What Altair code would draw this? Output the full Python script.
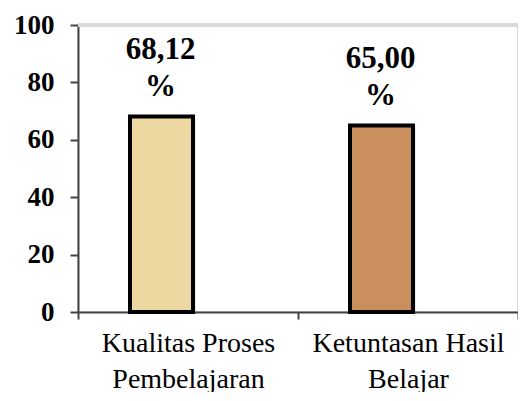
import altair as alt
import pandas as pd

categories = ["Kualitas Proses Pembelajaran", "Ketuntasan Hasil Belajar"]
values = [68.12, 65.00]
value_labels = ["68,12\n%", "65,00\n%"]
colors = ["#EED8A2", "#C98F5C"]

df = pd.DataFrame({"cat": categories, "val": values, "lab": value_labels, "col": colors})

label_expr = ("datum.value == 'Kualitas Proses Pembelajaran' ? ['Kualitas Proses', 'Pembelajaran'] : "
              "datum.value == 'Ketuntasan Hasil Belajar' ? ['Ketuntasan Hasil', 'Belajar'] : ''")

x = alt.X("cat:N", sort=categories, title=None,
          scale=alt.Scale(paddingInner=0, paddingOuter=0),
          axis=alt.Axis(labelAngle=0, labelFont="Liberation Serif", labelFontSize=28,
                        labelColor="black", labelExpr=label_expr, labelPadding=10,
                        labelLineHeight=36, labelBaseline="top", labelLimit=0,
                        tickBand="extent", tickSize=7, tickColor="#444444", tickWidth=2,
                        domainColor="#444444", domainWidth=2, grid=False))
y = alt.Y("val:Q", title=None,
          scale=alt.Scale(domain=[0, 100], nice=False),
          axis=alt.Axis(values=[0, 20, 40, 60, 80, 100], labelFont="Liberation Serif",
                        labelFontSize=27, labelFontWeight="bold", labelColor="black",
                        labelPadding=16, tickSize=8, tickColor="#444444", tickWidth=2,
                        domainColor="#444444", domainWidth=2, gridColor="#d9d9d9",
                        gridWidth=1.5))

base = alt.Chart(df)

top_rule = base.mark_rule(color="#d9d9d9", strokeWidth=4).encode(y=alt.datum(100))

shadow = base.mark_bar(width=63, xOffset=-24, yOffset=2, fill="#000000", opacity=0.15).encode(
    x=x, y=y)

bars = base.mark_bar(width=63, xOffset=-26.5, stroke="black", strokeWidth=4).encode(
    x=x, y=y, fill=alt.Fill("col:N", scale=None))

texts = base.mark_text(xOffset=-27.5, dy=-50, baseline="bottom", lineBreak="\n",
                       font="Liberation Serif", fontSize=31, fontWeight="bold",
                       lineHeight=37, color="black").encode(
    x=x, y=y, text="lab:N")

chart = alt.layer(top_rule, shadow, bars, texts).properties(
    width=440, height=287,
    autosize=alt.AutoSizeParams(type="none"),
    padding={"left": 70, "top": 17, "right": 0, "bottom": 80},
).configure_view(stroke="#d9d9d9", strokeWidth=2)

chart.save("out.html", embed_options={"renderer": "svg", "actions": False})
